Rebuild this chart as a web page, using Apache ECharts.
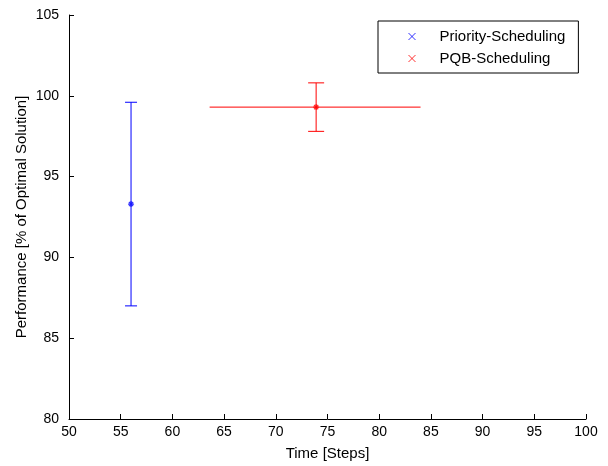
<!DOCTYPE html>
<html>
<head>
<meta charset="utf-8">
<script src="https://cdn.jsdelivr.net/npm/echarts@6/dist/echarts.min.js"></script>
<style>
html, body { margin: 0; padding: 0; background: #fff; }
#main { width: 608px; height: 466px; }
</style>
</head>
<body>
<div id="main"></div>
<script>
// data
var seriesNames = ['Priority-Scheduling', 'PQB-Scheduling'];
var seriesColors = ['#0000ff', '#ff0000'];
var timeMean = [56, 73.9];
var timeLow = [56, 63.6];
var timeHigh = [56, 84.0];
var perfMean = [93.3, 99.3];
var perfLow = [87.0, 97.8];
var perfHigh = [99.6, 100.8];

var STAR = 'path://M5,0L5,10M0,5L10,5M1.5,1.5L8.5,8.5M8.5,1.5L1.5,8.5';
var CROSS = 'path://M0,0L10,10M10,0L0,10';

var myChart = echarts.init(document.getElementById('main'));

var series = [];
var legendData = [];
for (var i = 0; i < seriesNames.length; i++) {
    (function (i) {
        var col = seriesColors[i];
        // error bars
        series.push({
            name: seriesNames[i] + '-err',
            type: 'custom',
            silent: true,
            data: [[timeMean[i], perfMean[i], perfLow[i], perfHigh[i], timeLow[i], timeHigh[i]]],
            renderItem: function (params, api) {
                var x = api.value(0), y = api.value(1);
                var yl = api.value(2), yh = api.value(3);
                var xl = api.value(4), xh = api.value(5);
                var ch = [];
                var st = { stroke: col, lineWidth: 1 };
                if (yl != yh) {
                    var pl = api.coord([x, yl]), ph = api.coord([x, yh]);
                    var cw = i == 0 ? 6 : 8;
                    ch.push({ type: 'line', shape: { x1: pl[0], y1: pl[1], x2: ph[0], y2: ph[1] }, style: st });
                    ch.push({ type: 'line', shape: { x1: pl[0] - cw, y1: pl[1], x2: pl[0] + cw, y2: pl[1] }, style: st });
                    ch.push({ type: 'line', shape: { x1: ph[0] - cw, y1: ph[1], x2: ph[0] + cw, y2: ph[1] }, style: st });
                }
                if (xl != xh) {
                    var ql = api.coord([xl, y]), qh = api.coord([xh, y]);
                    ch.push({ type: 'line', shape: { x1: ql[0], y1: ql[1], x2: qh[0], y2: qh[1] }, style: st });
                }
                return { type: 'group', children: ch };
            },
            z: 2
        });
        // mean point
        series.push({
            name: seriesNames[i],
            type: 'scatter',
            symbol: STAR,
            symbolSize: 6,
            data: [[timeMean[i], perfMean[i]]],
            itemStyle: { color: col, borderColor: col, borderWidth: 1.2 },
            z: 3
        });
        legendData.push({
            name: seriesNames[i],
            icon: CROSS,
            itemStyle: { color: col, borderColor: col, borderWidth: 1, opacity: 0.8 }
        });
    })(i);
}

var option = {
    animation: false,
    backgroundColor: '#fff',
    textStyle: { fontFamily: 'Liberation Sans, Arial, sans-serif' },
    grid: { left: 69, right: 22, top: 15, bottom: 46 },
    legend: {
        orient: 'vertical',
        left: 378,
        top: 21,
        padding: [8, 13, 7, 30],
        itemWidth: 7,
        itemHeight: 7,
        itemGap: 7,
        backgroundColor: '#fff',
        borderColor: '#000',
        borderWidth: 1,
        borderRadius: 0,
        selectedMode: false,
        textStyle: { fontSize: 15, color: '#000', padding: [0, 0, 0, 19] },
        data: legendData
    },
    xAxis: {
        type: 'value',
        min: 50,
        max: 100,
        interval: 5,
        name: 'Time [Steps]',
        nameLocation: 'middle',
        nameGap: 27,
        nameMoveOverlap: false,
        nameTextStyle: { fontSize: 15, color: '#000' },
        axisLine: { lineStyle: { color: '#000' } },
        axisTick: { inside: true, length: 5, lineStyle: { color: '#000' } },
        axisLabel: { fontSize: 14, color: '#000', margin: 6 },
        splitLine: { show: false }
    },
    yAxis: {
        type: 'value',
        min: 80,
        max: 105,
        interval: 5,
        name: 'Performance [% of Optimal Solution]',
        nameLocation: 'middle',
        nameGap: 40,
        nameMoveOverlap: false,
        nameTextStyle: { fontSize: 15, color: '#000' },
        axisLine: { show: true, lineStyle: { color: '#000' } },
        axisTick: { show: true, inside: true, length: 5, lineStyle: { color: '#000' } },
        axisLabel: { fontSize: 14, color: '#000', margin: 10 },
        splitLine: { show: false }
    },
    series: series
};

myChart.setOption(option);
</script>
</body>
</html>
